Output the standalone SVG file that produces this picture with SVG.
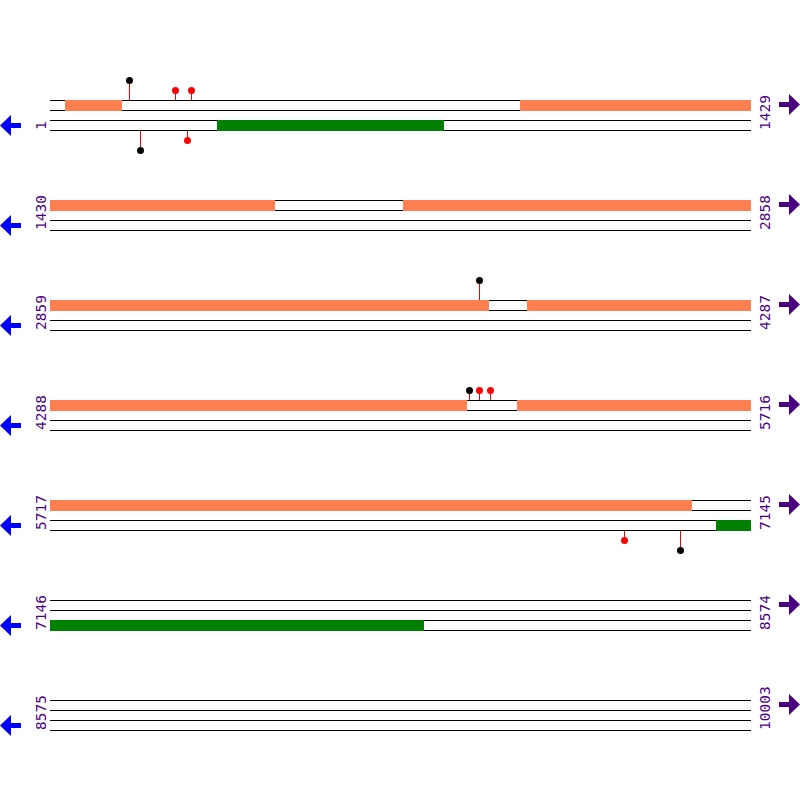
<svg xmlns="http://www.w3.org/2000/svg" xmlns:xlink="http://www.w3.org/1999/xlink" width="800" height="800" viewBox="0 0 800 800">
<style>
.ln{stroke:#000;stroke-width:1;fill:none}
.or{fill:#FF7F50}
.gr{fill:#008000}
.stem{stroke:#FF0000;stroke-width:1}
.bk{fill:#000}
.rd{fill:#FF0000}
.lbl{font-family:"DejaVu Sans Mono","Liberation Mono",monospace;font-size:14.5px;fill:#4B0082}
</style>
<defs>
<g id="lines">
<line class="ln" x1="50" y1="0.5" x2="751" y2="0.5"/>
<line class="ln" x1="50" y1="10.5" x2="751" y2="10.5"/>
<line class="ln" x1="50" y1="20.5" x2="751" y2="20.5"/>
<line class="ln" x1="50" y1="30.5" x2="751" y2="30.5"/>
</g>
<polygon id="larrow" points="0,25.5 11,15 11,23 21,23 21,28 11,28 11,36" fill="#0000FF"/>
<polygon id="rarrow" points="800,4.5 789,-6 789,2 779,2 779,7 789,7 789,15" fill="#4B0082"/>
</defs>
<rect width="800" height="800" fill="#fff"/>

<g id="row1" transform="translate(0,100)">
<use xlink:href="#lines"/>
<rect class="or" x="65" y="0" width="57" height="11"/>
<rect class="or" x="520" y="0" width="231" height="11"/>
<rect class="gr" x="217" y="20" width="227" height="11"/>
<use xlink:href="#larrow"/><use xlink:href="#rarrow"/>
<text class="lbl" transform="translate(46,30) rotate(-90)">1</text>
<text class="lbl" transform="translate(770,30) rotate(-90)">1429</text>
</g>
<g id="row2" transform="translate(0,200)">
<use xlink:href="#lines"/>
<rect class="or" x="50" y="0" width="225" height="11"/>
<rect class="or" x="403" y="0" width="348" height="11"/>
<use xlink:href="#larrow"/><use xlink:href="#rarrow"/>
<text class="lbl" transform="translate(46,30) rotate(-90)">1430</text>
<text class="lbl" transform="translate(770,30) rotate(-90)">2858</text>
</g>
<g id="row3" transform="translate(0,300)">
<use xlink:href="#lines"/>
<rect class="or" x="50" y="0" width="439" height="11"/>
<rect class="or" x="527" y="0" width="224" height="11"/>
<use xlink:href="#larrow"/><use xlink:href="#rarrow"/>
<text class="lbl" transform="translate(46,30) rotate(-90)">2859</text>
<text class="lbl" transform="translate(770,30) rotate(-90)">4287</text>
</g>
<g id="row4" transform="translate(0,400)">
<use xlink:href="#lines"/>
<rect class="or" x="50" y="0" width="417" height="11"/>
<rect class="or" x="517" y="0" width="234" height="11"/>
<use xlink:href="#larrow"/><use xlink:href="#rarrow"/>
<text class="lbl" transform="translate(46,30) rotate(-90)">4288</text>
<text class="lbl" transform="translate(770,30) rotate(-90)">5716</text>
</g>
<g id="row5" transform="translate(0,500)">
<use xlink:href="#lines"/>
<rect class="or" x="50" y="0" width="642" height="11"/>
<rect class="gr" x="716" y="20" width="35" height="11"/>
<use xlink:href="#larrow"/><use xlink:href="#rarrow"/>
<text class="lbl" transform="translate(46,30) rotate(-90)">5717</text>
<text class="lbl" transform="translate(770,30) rotate(-90)">7145</text>
</g>
<g id="row6" transform="translate(0,600)">
<use xlink:href="#lines"/>
<rect class="gr" x="50" y="20" width="374" height="11"/>
<use xlink:href="#larrow"/><use xlink:href="#rarrow"/>
<text class="lbl" transform="translate(46,30) rotate(-90)">7146</text>
<text class="lbl" transform="translate(770,30) rotate(-90)">8574</text>
</g>
<g id="row7" transform="translate(0,700)">
<use xlink:href="#lines"/>
<use xlink:href="#larrow"/><use xlink:href="#rarrow"/>
<text class="lbl" transform="translate(46,30) rotate(-90)">8575</text>
<text class="lbl" transform="translate(770,30) rotate(-90)">10003</text>
</g>

<g id="lollipops">
<line class="stem" x1="129.5" y1="100" x2="129.5" y2="80"/><circle class="bk" cx="129.5" cy="80.5" r="3.5"/>
<line class="stem" x1="175.5" y1="100" x2="175.5" y2="90"/><circle class="rd" cx="175.5" cy="90.5" r="3.5"/>
<line class="stem" x1="191.5" y1="100" x2="191.5" y2="90"/><circle class="rd" cx="191.5" cy="90.5" r="3.5"/>
<line class="stem" x1="140.5" y1="131" x2="140.5" y2="150"/><circle class="bk" cx="140.5" cy="150.5" r="3.5"/>
<line class="stem" x1="187.5" y1="131" x2="187.5" y2="140"/><circle class="rd" cx="187.5" cy="140.5" r="3.5"/>
<line class="stem" x1="479.5" y1="300" x2="479.5" y2="280"/><circle class="bk" cx="479.5" cy="280.5" r="3.5"/>
<line class="stem" x1="469.5" y1="400" x2="469.5" y2="390"/><circle class="bk" cx="469.5" cy="390.5" r="3.5"/>
<line class="stem" x1="479.5" y1="400" x2="479.5" y2="390"/><circle class="rd" cx="479.5" cy="390.5" r="3.5"/>
<line class="stem" x1="490.5" y1="400" x2="490.5" y2="390"/><circle class="rd" cx="490.5" cy="390.5" r="3.5"/>
<line class="stem" x1="624.5" y1="531" x2="624.5" y2="540"/><circle class="rd" cx="624.5" cy="540.5" r="3.5"/>
<line class="stem" x1="680.5" y1="531" x2="680.5" y2="550"/><circle class="bk" cx="680.5" cy="550.5" r="3.5"/>
</g>
</svg>
